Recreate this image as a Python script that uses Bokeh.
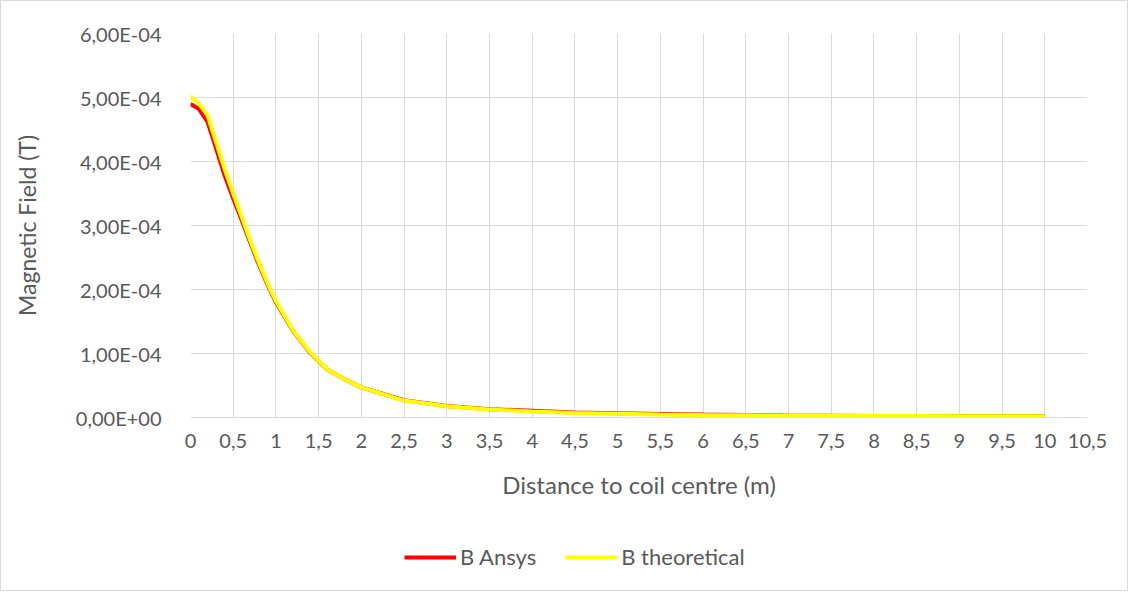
from bokeh.plotting import figure
from bokeh.layouts import column
from bokeh.models import (Legend, LegendItem, CustomJSTickFormatter, FixedTicker, Range1d)
from bokeh.embed import file_html
from bokeh.resources import INLINE

# Distance to coil centre (m)
distance = [0, 0.1, 0.2, 0.3, 0.4, 0.5, 0.6, 0.7, 0.8, 0.9, 1.0, 1.2, 1.4, 1.6, 1.8,
            2.0, 2.5, 3.0, 3.5, 4.0, 4.5, 5.0, 5.5, 6.0, 6.5, 7.0, 7.5, 8.0, 8.5, 9.0, 9.5, 10.0]
# Magnetic field (T)
b_ansys = [4.90e-4, 4.82e-4, 4.62e-4, 4.20e-4, 3.78e-4, 3.42e-4, 3.08e-4, 2.73e-4, 2.39e-4, 2.08e-4,
           1.80e-4, 1.35e-4, 1.01e-4, 0.75e-4, 0.60e-4, 0.47e-4, 0.27e-4, 0.18e-4, 0.13e-4, 0.105e-4,
           0.08e-4, 0.067e-4, 0.056e-4, 0.046e-4, 0.039e-4, 0.033e-4, 0.029e-4, 0.025e-4, 0.023e-4, 0.021e-4,
           0.019e-4, 0.018e-4]
b_theoretical = [5.02e-4, 4.90e-4, 4.72e-4, 4.30e-4, 3.88e-4, 3.50e-4, 3.13e-4, 2.76e-4, 2.42e-4, 2.10e-4,
                 1.82e-4, 1.36e-4, 1.02e-4, 0.75e-4, 0.60e-4, 0.47e-4, 0.265e-4, 0.175e-4, 0.125e-4, 0.095e-4,
                 0.07e-4, 0.057e-4, 0.048e-4, 0.04e-4, 0.035e-4, 0.03e-4, 0.027e-4, 0.024e-4, 0.022e-4,
                 0.02e-4, 0.019e-4, 0.018e-4]
series_names = ["B Ansys", "B theoretical"]
series_colors = ["#ff0000", "#ffff00"]

x_ticks = [i * 0.5 for i in range(22)]
y_ticks = [0, 1e-4, 2e-4, 3e-4, 4e-4, 5e-4, 6e-4]

FONT = "Lato"
TXT = "#595959"
GRID = "#d9d9d9"

p = figure(width=1126, height=500, output_backend="svg", toolbar_location=None,
           x_range=Range1d(0, 10.5), y_range=Range1d(0, 6e-4),
           min_border_left=189, min_border_right=40, min_border_top=32, min_border_bottom=80)
p.outline_line_color = None

p.xaxis.ticker = FixedTicker(ticks=x_ticks)
p.yaxis.ticker = FixedTicker(ticks=y_ticks)
p.xaxis.formatter = CustomJSTickFormatter(code="return String(Math.round(tick*10)/10).replace('.', ',');")
p.yaxis.formatter = CustomJSTickFormatter(code="""
if (tick == 0) return '0,00E+00';
const e = Math.floor(Math.log10(Math.abs(tick)) + 1e-9);
const m = tick / Math.pow(10, e);
const es = (e < 0 ? '-' : '+') + String(Math.abs(e)).padStart(2, '0');
return m.toFixed(2).replace('.', ',') + 'E' + es;
""")

for ax in (p.xaxis[0], p.yaxis[0]):
    ax.major_tick_line_color = None
    ax.minor_tick_line_color = None
    ax.major_label_text_font = FONT
    ax.major_label_text_color = TXT
    ax.major_label_text_font_size = "20px"
    ax.axis_label_text_font = FONT
    ax.axis_label_text_color = TXT
    ax.axis_label_text_font_size = "23px"
    ax.axis_label_text_font_style = "normal"

p.xaxis.axis_label_text_font_size = "24px"
p.xaxis.axis_line_color = GRID
p.yaxis.axis_line_color = None
p.xaxis.major_label_standoff = 10
p.yaxis.major_label_standoff = 23
p.xaxis.axis_label = "Distance to coil centre (m)"
p.yaxis.axis_label = "Magnetic Field (T)"
p.xaxis.axis_label_standoff = 19
p.yaxis.axis_label_standoff = 32

p.xgrid.ticker = FixedTicker(ticks=x_ticks)
p.ygrid.ticker = FixedTicker(ticks=y_ticks)
p.xgrid.grid_line_color = GRID
p.ygrid.grid_line_color = GRID

p.line(distance, b_ansys, line_color=series_colors[0], line_width=4)
p.line(distance, b_theoretical, line_color=series_colors[1], line_width=4)

# legend strip below the chart (its lines fall outside its own range, only the legend shows)
p2 = figure(width=1126, height=89, output_backend="svg", toolbar_location=None,
            x_range=Range1d(0, 10.5), y_range=Range1d(1, 2),
            min_border_left=0, min_border_right=0, min_border_top=0, min_border_bottom=0)
p2.axis.visible = False
p2.grid.visible = False
p2.outline_line_color = None
items = []
for name, col, vals in zip(series_names, series_colors, [b_ansys, b_theoretical]):
    r = p2.line(distance, vals, line_color=col, line_width=4)
    items.append(LegendItem(label=name, renderers=[r]))
legend = Legend(items=items, orientation="horizontal", location=(214, 20),
                border_line_color=None, background_fill_alpha=0,
                label_text_font=FONT, label_text_color=TXT, label_text_font_size="22px",
                glyph_width=52, glyph_height=20, label_standoff=4, spacing=29,
                padding=0, margin=0)
p2.add_layout(legend, "center")

layout = column(p, p2, spacing=0, styles={"border": "1px solid #d9d9d9"})

open("out.html", "w").write(file_html(layout, INLINE))
